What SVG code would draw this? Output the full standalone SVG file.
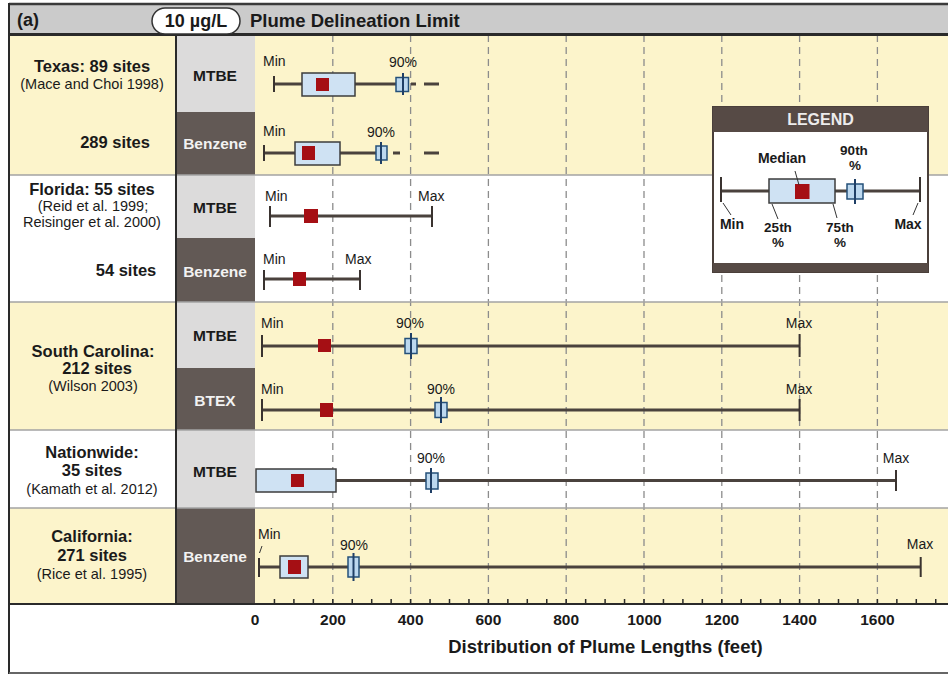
<svg xmlns="http://www.w3.org/2000/svg" width="948" height="675" viewBox="0 0 948 675">
<style>
.b{font-family:"Liberation Sans",Arial,sans-serif;font-weight:bold;fill:#1a1a1a}
.r{font-family:"Liberation Sans",Arial,sans-serif;fill:#1a1a1a}
.reg{font-size:16.5px;text-anchor:middle}
.cit{font-size:14.5px;text-anchor:middle}
.cmp{font-size:15.5px;text-anchor:middle}
.lbl{font-size:14px}
.lgl{font-size:13.5px}
.mid{text-anchor:middle}
.w{fill:#f2f2f2}
.yel{fill:#fcf4cb}
.wht{fill:#ffffff}
.lg{fill:#dcdbdb}
.dk{fill:#625955}
.grid{stroke:#8c8c8c;stroke-width:1.3;stroke-dasharray:7 5;fill:none}
.div{stroke:#a3a3a3;stroke-width:1.5}
.wh{stroke:#4a423d;stroke-width:3;fill:none}
.tk{stroke:#3a3330;stroke-width:2}
.box{fill:#cfe2f3;stroke:#3d3d3d;stroke-width:1.5}
.p90{fill:#bcd8ef;stroke:#24507a;stroke-width:1.5}
.p90l{stroke:#1f3f66;stroke-width:2}
.med{fill:#a50f14}
.lead{stroke:#333;stroke-width:1}
</style>

<!-- backgrounds -->
<g id="backgrounds">
<rect x="0" y="0" width="948" height="675" fill="#ffffff"/>
<rect x="9" y="4" width="939" height="30" fill="#cbcbcb"/>
<rect class="yel" x="9" y="35" width="939" height="140"/>
<rect class="wht" x="9" y="175" width="939" height="127"/>
<rect class="yel" x="9" y="302" width="939" height="128"/>
<rect class="wht" x="9" y="430" width="939" height="78"/>
<rect class="yel" x="9" y="508" width="939" height="96"/>
<!-- compound column -->
<rect class="lg" x="177" y="35" width="78" height="77"/>
<rect class="dk" x="177" y="112" width="78" height="63"/>
<rect class="lg" x="177" y="175" width="78" height="63"/>
<rect class="dk" x="177" y="238" width="78" height="64"/>
<rect class="lg" x="177" y="302" width="78" height="66"/>
<rect class="dk" x="177" y="368" width="78" height="62"/>
<rect class="lg" x="177" y="430" width="78" height="78"/>
<rect class="dk" x="177" y="508" width="78" height="96"/>
</g>

<!-- grid -->
<g id="grid">
<path class="grid" d="M332.8 35V604M410.6 35V604M488.4 35V604M566.2 35V604M644 35V604M721.8 35V604M799.6 35V604M877.4 35V604"/>
</g>

<!-- frame lines -->
<g id="frame">
<line class="div" x1="9" y1="175" x2="948" y2="175"/>
<line class="div" x1="9" y1="302" x2="948" y2="302"/>
<line class="div" x1="9" y1="430" x2="948" y2="430"/>
<line class="div" x1="9" y1="508" x2="948" y2="508"/>
<line x1="176" y1="35" x2="176" y2="604" stroke="#2a2a2a" stroke-width="2"/>
<line x1="9" y1="4" x2="948" y2="4" stroke="#3a3a3a" stroke-width="2.5"/>
<line x1="9" y1="34.5" x2="948" y2="34.5" stroke="#2a2a2a" stroke-width="3"/>
<line x1="9" y1="604" x2="948" y2="604" stroke="#2a2a2a" stroke-width="2"/>
<line x1="9" y1="3" x2="9" y2="674" stroke="#2a2a2a" stroke-width="2"/>
<line x1="9" y1="673" x2="948" y2="673" stroke="#666" stroke-width="2"/>
</g>

<!-- header -->
<g id="header">
<text class="b" x="17" y="26" font-size="18">(a)</text>
<rect x="152" y="8" width="88" height="26" rx="13" fill="#ffffff" stroke="#333" stroke-width="1.5"/>
<text class="b mid" x="196" y="27" font-size="18">10 µg/L</text>
<text class="b" x="250" y="27" font-size="18.5">Plume Delineation Limit</text>
</g>

<!-- Texas -->
<g id="texas">
<text class="b reg" x="92" y="72">Texas: 89 sites</text>
<text class="r cit" x="92" y="89" font-size="15">(Mace and Choi 1998)</text>
<text class="b reg" x="115" y="148">289 sites</text>
<text class="b cmp" x="215" y="81">MTBE</text>
<text class="b cmp w" x="215" y="149">Benzene</text>
</g>
<g id="texas-mtbe">
<line class="wh" x1="274" y1="84" x2="396" y2="84"/>
<path class="wh" d="M411 84H416M424 84H439"/>
<line class="tk" x1="274" y1="76" x2="274" y2="92"/>
<rect class="box" x="302" y="73" width="53" height="23"/>
<rect class="med" x="316" y="78" width="13" height="13"/>
<rect class="p90" x="396" y="77.5" width="12.5" height="14"/>
<line class="p90l" x1="403" y1="73" x2="403" y2="95"/>
<text class="r lbl" x="263" y="66">Min</text>
<text class="r lbl mid" x="403" y="67">90%</text>
</g>
<g id="texas-benzene">
<line class="wh" x1="264" y1="153" x2="376" y2="153"/>
<path class="wh" d="M393 153H400M424 153H439"/>
<line class="tk" x1="264" y1="145" x2="264" y2="161"/>
<rect class="box" x="295" y="142" width="45" height="23"/>
<rect class="med" x="302" y="146" width="13" height="14"/>
<rect class="p90" x="376" y="146" width="11" height="14"/>
<line class="p90l" x1="381" y1="142" x2="381" y2="164"/>
<text class="r lbl" x="263" y="136">Min</text>
<text class="r lbl mid" x="381" y="137">90%</text>
</g>

<!-- Florida -->
<g id="florida">
<text class="b reg" x="92" y="195">Florida: 55 sites</text>
<text class="r cit" x="93" y="211">(Reid et al. 1999;</text>
<text class="r cit" x="92" y="227">Reisinger et al. 2000)</text>
<text class="b reg" x="126" y="276">54 sites</text>
<text class="b cmp" x="215" y="213">MTBE</text>
<text class="b cmp w" x="215" y="277">Benzene</text>
</g>
<g id="florida-mtbe">
<line class="wh" x1="270" y1="216" x2="432" y2="216"/>
<line class="tk" x1="270" y1="206" x2="270" y2="227"/>
<line class="tk" x1="432" y1="206" x2="432" y2="227"/>
<rect class="med" x="304" y="209" width="14" height="14"/>
<text class="r lbl" x="265" y="201">Min</text>
<text class="r lbl" x="418" y="201">Max</text>
</g>
<g id="florida-benzene">
<line class="wh" x1="264" y1="279" x2="360" y2="279"/>
<line class="tk" x1="264" y1="270" x2="264" y2="290"/>
<line class="tk" x1="360" y1="270" x2="360" y2="290"/>
<rect class="med" x="293" y="272" width="13" height="14"/>
<text class="r lbl" x="263" y="264">Min</text>
<text class="r lbl" x="345" y="264">Max</text>
</g>

<!-- South Carolina -->
<g id="south-carolina">
<text class="b reg" x="93" y="357">South Carolina:</text>
<text class="b reg" x="97" y="374">212 sites</text>
<text class="r cit" x="93" y="391">(Wilson 2003)</text>
<text class="b cmp" x="215" y="341">MTBE</text>
<text class="b cmp w" x="215" y="406">BTEX</text>
</g>
<g id="sc-mtbe">
<line class="wh" x1="262" y1="346" x2="799.6" y2="346"/>
<line class="tk" x1="262" y1="335" x2="262" y2="357"/>
<line class="tk" x1="799.6" y1="334" x2="799.6" y2="357"/>
<rect class="med" x="318" y="339" width="13" height="13"/>
<rect class="p90" x="405" y="338.5" width="12" height="15"/>
<line class="p90l" x1="411" y1="333" x2="411" y2="359"/>
<text class="r lbl" x="261" y="328">Min</text>
<text class="r lbl mid" x="410" y="328">90%</text>
<text class="r lbl mid" x="799" y="328">Max</text>
</g>
<g id="sc-btex">
<line class="wh" x1="262" y1="410" x2="799.6" y2="410"/>
<line class="tk" x1="262" y1="399" x2="262" y2="421"/>
<line class="tk" x1="799.6" y1="399" x2="799.6" y2="421"/>
<rect class="med" x="320" y="403" width="13" height="14"/>
<rect class="p90" x="435" y="402.5" width="12" height="15"/>
<line class="p90l" x1="441" y1="397" x2="441" y2="423"/>
<text class="r lbl" x="261" y="394">Min</text>
<text class="r lbl mid" x="441" y="394">90%</text>
<text class="r lbl mid" x="799" y="394">Max</text>
</g>

<!-- Nationwide -->
<g id="nationwide">
<text class="b reg" x="92" y="458">Nationwide:</text>
<text class="b reg" x="92" y="476">35 sites</text>
<text class="r cit" x="92" y="494">(Kamath et al. 2012)</text>
<text class="b cmp" x="215" y="477">MTBE</text>
</g>
<g id="nationwide-mtbe">
<line class="wh" x1="336" y1="480.5" x2="896" y2="480.5"/>
<line class="tk" x1="896" y1="470" x2="896" y2="491"/>
<rect class="box" x="256" y="469" width="80" height="23"/>
<rect class="med" x="291" y="474" width="13" height="13"/>
<rect class="p90" x="426" y="473" width="12" height="16"/>
<line class="p90l" x1="431" y1="468" x2="431" y2="493"/>
<text class="r lbl mid" x="431" y="463">90%</text>
<text class="r lbl mid" x="896" y="463">Max</text>
</g>

<!-- California -->
<g id="california">
<text class="b reg" x="92" y="542">California:</text>
<text class="b reg" x="92" y="561">271 sites</text>
<text class="r cit" x="92" y="579">(Rice et al. 1995)</text>
<text class="b cmp w" x="215" y="562">Benzene</text>
</g>
<g id="california-benzene">
<line class="wh" x1="259" y1="567" x2="920.7" y2="567"/>
<line class="tk" x1="259" y1="558" x2="259" y2="577"/>
<line class="tk" x1="920.7" y1="557" x2="920.7" y2="577"/>
<rect class="box" x="280" y="556" width="28" height="22"/>
<rect class="med" x="288" y="560" width="13" height="14"/>
<rect class="p90" x="348" y="557" width="11" height="20"/>
<line class="p90l" x1="353.5" y1="553" x2="353.5" y2="581"/>
<line class="lead" x1="259.5" y1="553" x2="262" y2="546"/>
<text class="r lbl" x="258" y="539">Min</text>
<text class="r lbl mid" x="354" y="550">90%</text>
<text class="r lbl mid" x="920" y="549">Max</text>
</g>

<!-- axis -->
<g id="axis">
<path stroke="#2a2a2a" stroke-width="1.5" fill="none" d="M274.45 604v-5M293.9 604v-5M313.35 604v-5M332.8 604v-5M352.25 604v-5M371.7 604v-5M391.15 604v-5M410.6 604v-5M430.05 604v-5M449.5 604v-5M468.95 604v-5M488.4 604v-5M507.85 604v-5M527.3 604v-5M546.75 604v-5M566.2 604v-5M585.65 604v-5M605.1 604v-5M624.55 604v-5M644 604v-5M663.45 604v-5M682.9 604v-5M702.35 604v-5M721.8 604v-5M741.25 604v-5M760.7 604v-5M780.15 604v-5M799.6 604v-5M819.05 604v-5M838.5 604v-5M857.95 604v-5M877.4 604v-5M896.85 604v-5M916.3 604v-5M935.75 604v-5"/>
<text class="b mid" font-size="15.5" x="255" y="625">0</text>
<text class="b mid" font-size="15.5" x="333" y="625">200</text>
<text class="b mid" font-size="15.5" x="410.6" y="625">400</text>
<text class="b mid" font-size="15.5" x="488.4" y="625">600</text>
<text class="b mid" font-size="15.5" x="566.2" y="625">800</text>
<text class="b mid" font-size="15.5" x="644.5" y="625">1000</text>
<text class="b mid" font-size="15.5" x="722" y="625">1200</text>
<text class="b mid" font-size="15.5" x="799.6" y="625">1400</text>
<text class="b mid" font-size="15.5" x="877.4" y="625">1600</text>
<text class="b mid" font-size="18.5" x="605.5" y="653">Distribution of Plume Lengths (feet)</text>
</g>

<!-- legend -->
<g id="legend">
<rect x="713" y="107" width="215" height="165" fill="#ffffff" stroke="#4a3f3a" stroke-width="2"/>
<rect x="713" y="107" width="215" height="25" fill="#564a45"/>
<rect x="713" y="263" width="215" height="9" fill="#564a45"/>
<text class="b mid" x="820.5" y="125" font-size="16" style="fill:#ececec">LEGEND</text>
<line class="wh" x1="721" y1="191" x2="920" y2="191"/>
<line class="tk" x1="721" y1="177" x2="721" y2="202"/>
<line class="tk" x1="920" y1="177" x2="920" y2="202"/>
<rect class="box" x="769" y="179" width="66" height="24"/>
<rect class="med" x="795" y="184" width="14.5" height="15"/>
<rect class="p90" x="847" y="184" width="16" height="15"/>
<line class="p90l" x1="855" y1="179" x2="855" y2="204"/>
<g id="legend-leaders">
<line class="lead" x1="795" y1="171" x2="799" y2="185"/>
<line class="lead" x1="723" y1="203" x2="731" y2="215"/>
<line class="lead" x1="772" y1="204" x2="778" y2="219"/>
<line class="lead" x1="833" y1="204" x2="837" y2="218"/>
<line class="lead" x1="918" y1="203" x2="913" y2="215"/>
</g>
<text class="b lbl mid" x="782" y="163">Median</text>
<text class="b lgl mid" x="854" y="155">90th</text>
<text class="b lgl mid" x="855" y="170">%</text>
<text class="b lbl mid" x="732" y="229">Min</text>
<text class="b lgl mid" x="778" y="232">25th</text>
<text class="b lgl mid" x="778" y="247">%</text>
<text class="b lgl mid" x="840" y="232">75th</text>
<text class="b lgl mid" x="840" y="247">%</text>
<text class="b lbl mid" x="908" y="229">Max</text>
</g>
</svg>
